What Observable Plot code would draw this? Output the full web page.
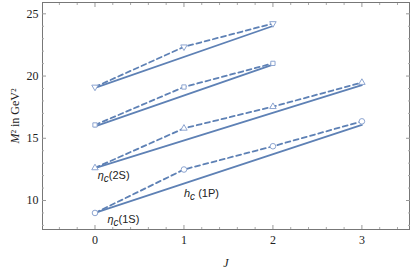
<!DOCTYPE html>
<html><head><meta charset="utf-8">
<script src="https://cdn.jsdelivr.net/npm/d3@7"></script>
<script src="https://cdn.jsdelivr.net/npm/@observablehq/plot@0.6"></script>
<style>body{margin:0;background:#fff}</style>
</head><body><div id="chart"></div>
<script>
// --- data ---
const J4 = [0, 1, 2, 3];
const J3 = [0, 1, 2];
const m1S = [9.0, 12.49, 14.36, 16.36];      // circles
const m2S = [12.62, 15.8, 17.54, 19.48];     // triangles
const mSq = [16.07, 19.12, 21.02];           // squares
const mInv = [19.12, 22.35, 24.22];          // inverted triangles
const fitJ4 = [0, 3];
const fitJ3 = [0, 2];
const fit1S = [9.0, 16.07];
const fit2S = [12.6, 19.27];
const fitSq = [15.95, 20.92];
const fitInv = [19.05, 24.02];
const xMajor = [0, 1, 2, 3];
const xMinor = [-0.4, -0.2, 0.2, 0.4, 0.6, 0.8, 1.2, 1.4, 1.6, 1.8, 2.2, 2.4, 2.6, 2.8, 3.2, 3.4];
const yMajor = [10, 15, 20, 25];
const yMinor = [8, 9, 11, 12, 13, 14, 16, 17, 18, 19, 21, 22, 23, 24];
const labelJ = [0.14, 0.03, 1.0];
const labelM = [8.45, 12.0, 10.55];
const labelName = ["η|c|(1S)", "η|c|(2S)", "h|c| (1P)"];

const lineColor = "#5E81B5";
const markColor = "#8DA5D1";
const triDown = {draw(ctx, size) {
  const s3 = Math.sqrt(3), y = -Math.sqrt(size / (s3 * 3));
  ctx.moveTo(0, -y * 2); ctx.lineTo(-s3 * y, y); ctx.lineTo(s3 * y, y); ctx.closePath();
}};

const pts = (J, M) => J.map((j, i) => ({J: j, M: M[i]}));
const series = [
  {pts: pts(J4, m1S), fit: pts(fitJ4, fit1S), symbol: "circle", r: 2.8},
  {pts: pts(J4, m2S), fit: pts(fitJ4, fit2S), symbol: "triangle", r: 2.4},
  {pts: pts(J3, mSq), fit: pts(fitJ3, fitSq), symbol: "square", r: 2.4},
  {pts: pts(J3, mInv), fit: pts(fitJ3, fitInv), symbol: triDown, r: 2.4}
];
const labels = labelJ.map((j, i) => ({J: j, M: labelM[i], t: labelName[i]}));

const marks = [];
for (const s of series) {
  marks.push(Plot.line(s.fit, {x: "J", y: "M", stroke: lineColor, strokeWidth: 1.8}));
  marks.push(Plot.line(s.pts, {x: "J", y: "M", stroke: lineColor, strokeWidth: 1.8, strokeDasharray: "5,3.5"}));
  marks.push(Plot.dot(s.pts, {x: "J", y: "M", symbol: () => s.symbol, r: s.r, stroke: markColor, fill: "white", strokeWidth: 1}));
}
marks.push(Plot.text(labels, {x: "J", y: "M", text: "t", textAnchor: "start", fontSize: 11, fill: "#222", fontFamily: "Liberation Sans"}));

const empty = () => "";
marks.push(
  Plot.frame({stroke: "#777"}),
  Plot.axisX(xMajor, {anchor: "bottom", tickSize: -4, tickPadding: 10, stroke: "#999", label: "J", labelArrow: "none", labelAnchor: "center", labelOffset: 37}),
  Plot.axisX(xMinor, {anchor: "bottom", tickSize: -2, tickFormat: empty, stroke: "#aaa", label: null}),
  Plot.axisX(xMajor, {anchor: "top", tickSize: -4, tickFormat: empty, stroke: "#999", label: null}),
  Plot.axisX(xMinor, {anchor: "top", tickSize: -2, tickFormat: empty, stroke: "#aaa", label: null}),
  Plot.axisY(yMajor, {anchor: "left", tickSize: -4, tickPadding: 8, stroke: "#999", label: "M² in GeV²", labelArrow: "none", labelAnchor: "center", labelOffset: 32}),
  Plot.axisY(yMinor, {anchor: "left", tickSize: -2, tickFormat: empty, stroke: "#aaa", label: null}),
  Plot.axisY(yMajor, {anchor: "right", tickSize: -4, tickFormat: empty, stroke: "#999", label: null}),
  Plot.axisY(yMinor, {anchor: "right", tickSize: -2, tickFormat: empty, stroke: "#aaa", label: null})
);

const chart = Plot.plot({
  width: 415, height: 272,
  marginLeft: 42, marginRight: 6, marginTop: 2, marginBottom: 43,
  x: {domain: [-0.59, 3.535]},
  y: {domain: [7.67, 25.91]},
  style: {fontFamily: "Liberation Serif", fontSize: "12px", color: "#222", background: "white"},
  marks
});
document.getElementById("chart").appendChild(chart);

// rich text for labels (italic symbols, subscripts)
const ns = "http://www.w3.org/2000/svg";
chart.querySelectorAll("text").forEach(t => {
  const s = t.textContent.trim();
  if (s.includes("|")) {
    const [a, b, c] = s.split("|");
    t.textContent = "";
    const t1 = document.createElementNS(ns, "tspan"); t1.textContent = a; t1.setAttribute("font-style", "italic");
    const t2 = document.createElementNS(ns, "tspan"); t2.textContent = b; t2.setAttribute("font-style", "italic"); t2.setAttribute("dy", "3"); t2.setAttribute("font-size", "10");
    const t3 = document.createElementNS(ns, "tspan"); t3.textContent = c; t3.setAttribute("dy", "-3");
    t.append(t1, t2, t3);
  } else if (s.startsWith("M²")) {
    t.textContent = "";
    const t1 = document.createElementNS(ns, "tspan"); t1.textContent = "M"; t1.setAttribute("font-style", "italic");
    const t2 = document.createElementNS(ns, "tspan"); t2.textContent = s.slice(1);
    t.append(t1, t2);
  } else if (s.startsWith("J")) {
    t.setAttribute("font-style", "italic");
  }
});
</script></body></html>
